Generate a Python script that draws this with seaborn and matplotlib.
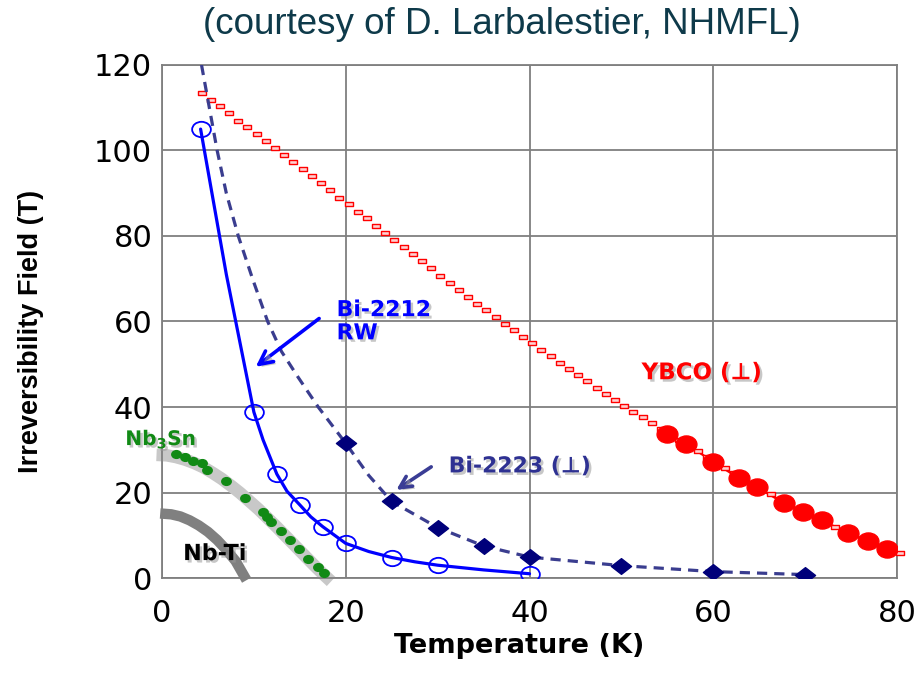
import matplotlib
matplotlib.use("Agg")
import matplotlib.pyplot as plt
import matplotlib.patheffects as pe
from matplotlib.path import Path
from matplotlib.transforms import Affine2D
import pandas as pd
import seaborn as sns

# ---------------------------------------------------------------- data
# Bi-2212 round wire (measured points and guide curve)
bi2212_T = [4.2, 10.0, 12.5, 15.0, 17.5, 20.0, 25.0, 30.0, 40.0]
bi2212_B = [105.0, 38.8, 24.3, 17.1, 12.0, 8.1, 4.8, 3.0, 1.0]
bi2212_curve_T = [4.2, 7.0, 10.0, 11.0, 12.5, 13.6, 15.0, 16.2, 17.5,
                  20.0, 22.5, 25.0, 27.5, 30.0, 35.0, 40.0]
bi2212_curve_B = [105.0, 71.0, 38.8, 32.3, 24.3, 20.3, 17.1, 14.3, 12.0,
                  8.1, 6.2, 4.8, 3.8, 3.0, 1.9, 1.0]

# Bi-2223 tape, field perpendicular
bi2223_T = [20, 25, 30, 35, 40, 50, 60, 70]
bi2223_B = [31.5, 17.9, 11.8, 7.5, 4.9, 2.9, 1.5, 0.8]
bi2223_curve_T = [4.3, 6.0, 7.0, 8.3, 9.9, 11.5, 13.0, 14.8, 17.0, 20, 22.5,
                  25, 30, 35, 40, 50, 60, 70]
bi2223_curve_B = [120, 100, 90, 80, 69.7, 60, 53.0, 47.0, 40.0, 31.5, 24.0,
                  17.9, 11.8, 7.5, 4.9, 2.9, 1.5, 0.8]

# YBCO, field perpendicular: fitted line and measured points
ybco_fit_T = [4.3, 5.3, 6.3, 7.3, 8.3, 9.3, 10.3, 11.3, 12.3, 13.3, 14.3,
              15.3, 16.3, 17.3, 18.3, 19.3, 20.3, 21.3, 22.3, 23.3, 24.3,
              25.3, 26.3, 27.3, 28.3, 29.3, 30.3, 31.3, 32.3, 33.3, 34.3,
              35.3, 36.3, 37.3, 38.3, 39.3, 40.3, 41.3, 42.3, 43.3, 44.3,
              45.3, 46.3, 47.3, 48.3, 49.3, 50.3, 51.3, 52.3, 53.3, 54.3,
              55.3, 56.3, 57.3, 58.3, 59.3, 60.3, 61.3, 62.3, 63.3, 64.3,
              65.3, 66.3, 67.3, 68.3, 69.3, 70.3, 71.3, 72.3, 73.3, 74.3,
              75.3, 76.3, 77.3, 78.3, 79.3, 80.3]
ybco_fit_B = [113.5, 111.9, 110.3, 108.7, 107.0, 105.4, 103.8, 102.2, 100.5,
              98.9, 97.3, 95.7, 94.0, 92.4, 90.7, 89.0, 87.4, 85.7, 84.1, 82.4,
              80.8, 79.1, 77.5, 75.8, 74.1, 72.4, 70.7, 69.0, 67.4, 65.7, 64.2,
              62.6, 61.0, 59.4, 57.9, 56.4, 54.9, 53.4, 51.9, 50.4, 48.9, 47.4,
              46.0, 44.5, 43.1, 41.6, 40.3, 38.9, 37.6, 36.2, 34.9, 33.5, 32.2,
              30.9, 29.6, 28.3, 27.0, 25.7, 24.5, 23.2, 22.0, 20.8, 19.6, 18.4,
              17.2, 16.1, 15.0, 13.9, 12.9, 11.9, 10.9, 10.0, 9.1, 8.2, 7.3,
              6.6, 5.9]
ybco_T = [55.0, 57.0, 60.0, 62.8, 64.8, 67.7, 69.8, 71.8, 74.7, 76.8, 78.9]
ybco_B = [33.6, 31.4, 27.2, 23.3, 21.2, 17.5, 15.4, 13.5, 10.5, 8.7, 6.7]

# Nb3Sn: measured points and Hc2 band
nb3sn_T = [1.5, 2.5, 3.4, 4.3, 4.9, 7.0, 9.0, 11.0, 11.4, 11.9, 13.0, 13.9,
           14.9, 15.9, 17.0, 17.6]
nb3sn_B = [29.0, 28.2, 27.4, 26.8, 25.3, 22.7, 18.8, 15.4, 14.3, 13.2, 11.1,
           8.9, 6.8, 4.4, 2.6, 1.2]
nb3sn_band_T = [-0.6, 0.5, 1.5, 2.5, 3.5, 4.5, 5.5, 6.5, 7.5, 8.5, 9.5, 10.5,
                11.5, 12.5, 13.5, 14.5, 15.5, 16.5, 17.5, 18.4]
nb3sn_band_B = [28.8, 28.7, 28.3, 27.7, 26.9, 25.9, 24.6, 23.2, 21.6, 19.9,
                18.0, 16.1, 14.0, 11.9, 9.7, 7.5, 5.3, 3.1, 1.0, -0.8]

# Nb-Ti Hc2 band
nbti_band_T = [-0.2, 1.0, 2.0, 3.0, 4.0, 5.0, 6.0, 7.0, 8.0, 9.2]
nbti_band_B = [15.1, 14.9, 14.4, 13.5, 12.3, 10.8, 8.9, 6.6, 4.0, -0.5]

x_ticks = [0, 20, 40, 60, 80]
y_ticks = [0, 20, 40, 60, 80, 100, 120]

# ---------------------------------------------------------------- style
sns.set_theme(style="white")
plt.rcParams["font.family"] = ["DejaVu Sans"]
plt.rcParams["mathtext.fontset"] = "dejavusans"

GRID = "#7f7f7f"
BLUE = "#0000ff"
NAVY = "#00007a"
SLATE = "#3a3d8f"
RED = "#ff0000"
GREEN = "#118a15"


def scaled(path, sx, sy):
    return path.transformed(Affine2D().scale(sx, sy))


ellipse = scaled(Path.unit_circle(), 1.0, 0.82)
diamond = scaled(Path([(0, 1), (1, 0), (0, -1), (-1, 0), (0, 1)],
                      [Path.MOVETO, Path.LINETO, Path.LINETO, Path.LINETO,
                       Path.CLOSEPOLY]), 1.0, 0.78)
bar = Path([(-1, -0.42), (1, -0.42), (1, 0.42), (-1, 0.42), (-1, -0.42)],
           [Path.MOVETO, Path.LINETO, Path.LINETO, Path.LINETO,
            Path.CLOSEPOLY])

shadow = [pe.withSimplePatchShadow(offset=(1.8, -1.8),
                                   shadow_rgbFace="#9a9a9a", alpha=0.55)]

fig = plt.figure(figsize=(9.19, 6.74), dpi=100)
ax = fig.add_axes([0.1763, 0.1424, 0.7998, 0.7612])

# ---------------------------------------------------------------- bands
sns.lineplot(x=nb3sn_band_T, y=nb3sn_band_B, ax=ax, sort=False,
             estimator=None, color="#c8c8c8", lw=9, solid_capstyle="butt",
             clip_on=False, zorder=2)
sns.lineplot(x=nbti_band_T, y=nbti_band_B, ax=ax, sort=False,
             estimator=None, color="#808080", lw=7.5, solid_capstyle="butt",
             clip_on=False, zorder=2)
ax.plot(nb3sn_T, nb3sn_B, ls="none", marker=ellipse, ms=6.8, mfc=GREEN,
        mec=GREEN, zorder=3)

# ---------------------------------------------------------------- YBCO
sns.lineplot(x=ybco_T, y=ybco_B, ax=ax, sort=False, estimator=None,
             color=RED, lw=1.6, zorder=3)
ax.plot(ybco_fit_T, ybco_fit_B, ls="none", marker=bar, ms=5.4,
        mfc="#ffd0d0", mec=RED, mew=1.0, zorder=4, clip_on=False)
ax.plot(ybco_T, ybco_B, ls="none", marker=ellipse, ms=15, mfc=RED,
        mec=RED, zorder=5)

# ---------------------------------------------------------------- Bi-2223
sns.lineplot(x=bi2223_curve_T, y=bi2223_curve_B, ax=ax, sort=False,
             estimator=None, color=SLATE, lw=2.3, dashes=(3.2, 2.2),
             zorder=4)
ax.plot(bi2223_T, bi2223_B, ls="none", marker=diamond, ms=14.5, mfc=NAVY,
        mec=NAVY, zorder=5)

# ---------------------------------------------------------------- Bi-2212
sns.lineplot(x=bi2212_curve_T, y=bi2212_curve_B, ax=ax, sort=False,
             estimator=None, color=BLUE, lw=2.3, zorder=5)
ax.plot(bi2212_T, bi2212_B, ls="none", marker=ellipse, ms=13.5,
        mfc="none", mec=BLUE, mew=1.3, zorder=6)

# ---------------------------------------------------------------- axes
ax.set_xlim(0, 80)
ax.set_ylim(0, 120)
ax.set_xticks(x_ticks)
ax.set_yticks(y_ticks)
ax.set_xticklabels([str(v) for v in x_ticks])
ax.set_yticklabels([str(v) for v in y_ticks])
ax.grid(True, color=GRID, lw=1.3)
ax.set_axisbelow(True)
for s in ax.spines.values():
    s.set_color(GRID)
    s.set_linewidth(1.3)
ax.tick_params(axis="both", length=7, width=1.2, color=GRID,
               labelsize=22, labelcolor="black")
ax.tick_params(axis="x", pad=8)
ax.tick_params(axis="y", pad=0)
ax.set_xlabel("")
ax.set_ylabel("")

fig.text(519 / 919, 1 - 646 / 674, "Temperature (K)", ha="center",
         va="center", fontsize=19.5, fontweight="bold", color="black")
fig.text(31 / 919, 1 - 331 / 674, "Irreversibility Field (T)",
         rotation=90, ha="center", va="center", fontsize=19.5,
         fontweight="bold", family="Liberation Sans", color="black")
fig.text(502 / 919, 1 - 25 / 674, "(courtesy of D. Larbalestier, NHMFL)",
         ha="center", va="center", fontsize=26.5, family="Liberation Sans",
         color="#0e3a4a")

# ---------------------------------------------------------------- labels
ax.text(19.0, 65.0, "Bi-2212\nRW", color=BLUE, fontsize=15.8,
        fontweight="bold", ha="left", va="top", linespacing=1.2,
        path_effects=shadow, zorder=7)
ax.annotate("", xy=(10.2, 49.4), xytext=(17.1, 60.7),
            arrowprops=dict(arrowstyle="->,head_length=0.8,head_width=0.4",
                            color=BLUE, lw=2.6, shrinkA=0, shrinkB=0,
                            path_effects=shadow), zorder=7)

ax.text(31.2, 24.7, "Bi-2223 (\u22a5)", color="#2e3192", fontsize=15.8,
        fontweight="bold", ha="left", va="baseline", path_effects=shadow,
        zorder=7)
ax.annotate("", xy=(25.5, 20.6), xytext=(29.3, 26.0),
            arrowprops=dict(arrowstyle="->,head_length=0.7,head_width=0.35",
                            color="#3a3d95", lw=2.6, shrinkA=0, shrinkB=0,
                            path_effects=shadow), zorder=7)

ax.text(52.2, 46.5, "YBCO (\u22a5)", color=RED, fontsize=16.5,
        fontweight="bold", ha="left", va="baseline", path_effects=shadow,
        zorder=7)

ax.text(-4.0, 31.1, r"$\mathbf{Nb_3Sn}$", color=GREEN, fontsize=14.5,
        ha="left", va="baseline", path_effects=shadow, zorder=7,
        clip_on=False)

ax.text(2.3, 4.2, "Nb-Ti", color="black", fontsize=16, fontweight="bold",
        ha="left", va="baseline", path_effects=shadow, zorder=7)

fig.savefig("out.png", dpi=100)
